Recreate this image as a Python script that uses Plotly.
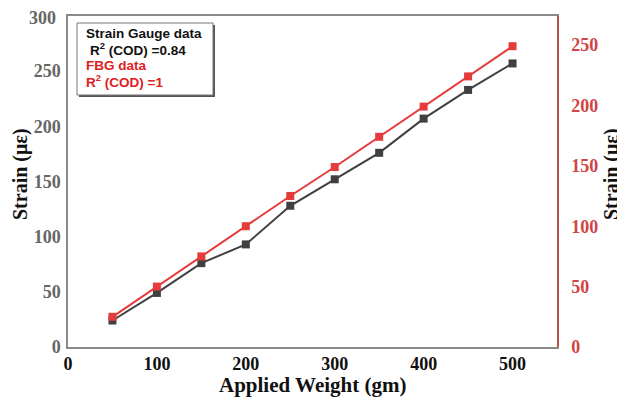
import plotly.graph_objects as go

weight = [50, 100, 150, 200, 250, 300, 350, 400, 450, 500]
strain_gauge = [24, 49, 76, 93, 128, 152, 176, 207, 233, 257]
fbg = [25, 50, 75, 100, 125, 149, 174, 199, 224, 249]

x_ticks = [0, 100, 200, 300, 400, 500]
left_ticks = [0, 50, 100, 150, 200, 250]
left_top_tick = 300
right_ticks = [0, 50, 100, 150, 200, 250]

fig = go.Figure()
fig.add_trace(go.Scatter(x=weight, y=strain_gauge, mode="lines+markers",
                         line=dict(color="#404040", width=2),
                         marker=dict(symbol="square", size=8, color="#404040"),
                         showlegend=False))
fig.add_trace(go.Scatter(x=weight, y=fbg, mode="lines+markers", yaxis="y2",
                         line=dict(color="#e63b3b", width=2),
                         marker=dict(symbol="square", size=8, color="#e63b3b"),
                         showlegend=False))

serif = "Liberation Serif"
sans = "Liberation Sans"

# page body has an 8px margin: figure is drawn offset by (8, 8)
OFF = 8
FW, FH = 625 - OFF, 397 - OFF
L, R, T, B = 68 - OFF, 557 - OFF, 16 - OFF, 347 - OFF
W, H = R - L, B - T

tickfont_left = dict(family=serif, size=18, color="#666666", weight="bold")

fig.update_layout(
    width=FW, height=FH,
    margin=dict(l=L, r=FW - R, t=T, b=FH - B, autoexpand=False),
    paper_bgcolor="white", plot_bgcolor="white",
    xaxis=dict(range=[0, 550], tickvals=x_ticks, showgrid=False, zeroline=False,
               showline=True, linecolor="#8a8a8a", linewidth=1.5, mirror=True,
               ticks="", ticklabelstandoff=0, automargin=False,
               tickfont=dict(family=serif, size=18, color="#111111", weight="bold")),
    yaxis=dict(range=[0, 300], tickvals=left_ticks, showgrid=False, zeroline=False,
               showline=True, linecolor="#8a8a8a", linewidth=1.5,
               ticks="", ticklabelstandoff=2, automargin=False,
               tickfont=tickfont_left),
    yaxis2=dict(range=[0, 274], tickvals=right_ticks, overlaying="y", side="right",
                showgrid=False, zeroline=False,
                showline=True, linecolor="#c0504d", linewidth=1.5,
                ticks="", ticklabelstandoff=9, automargin=False,
                tickfont=dict(family=serif, size=18, color="#d04545", weight="bold")),
)

def px(xp):
    return (xp - OFF - L) / W

def py(yp):
    return (B - (yp - OFF)) / H

# top tick label of the left axis (plotly hides it at the page edge)
fig.add_annotation(text=f"<b>{left_top_tick}</b>", xref="paper", yref="y",
                   x=px(58), y=left_top_tick, xanchor="right", yanchor="middle",
                   yshift=-2, showarrow=False,
                   font=dict(family=serif, size=18, color="#666666"))

# axis titles
fig.add_annotation(text="<b>Applied Weight (gm)</b>", xref="paper", yref="paper",
                   x=px(312), y=py(385), xanchor="center", yanchor="middle",
                   showarrow=False, font=dict(family=serif, size=21, color="#111111"))
fig.add_annotation(text="<b>Strain (με)</b>", xref="paper", yref="paper",
                   x=px(20), y=py(174), xanchor="center", yanchor="middle", textangle=-90,
                   showarrow=False, font=dict(family=serif, size=20, color="#111111"))
fig.add_annotation(text="<b>Strain (με)</b>", xref="paper", yref="paper",
                   x=px(611), y=py(174), xanchor="center", yanchor="middle", textangle=-90,
                   showarrow=False, font=dict(family=serif, size=20, color="#111111"))

# legend-like box (shadow + box)
fig.add_shape(type="rect", xref="paper", yref="paper",
              x0=px(79), x1=px(215), y0=py(97), y1=py(25),
              fillcolor="#555555", line=dict(width=0), layer="above")
fig.add_shape(type="rect", xref="paper", yref="paper",
              x0=px(77), x1=px(213), y0=py(95), y1=py(23),
              fillcolor="white", line=dict(color="#777777", width=1), layer="above")

lines = [
    ("<b>Strain Gauge data</b>", "#111111", 33, 84),
    ("<b>R<sup>2</sup> (COD) =0.84</b>", "#111111", 49, 88),
    ("<b>FBG data</b>", "#e02020", 66, 84),
    ("<b>R<sup>2</sup> (COD) =1</b>", "#e02020", 81, 84),
]
for txt, col, ypix, xpix in lines:
    fig.add_annotation(text=txt, xref="paper", yref="paper",
                       x=px(xpix), y=py(ypix),
                       xanchor="left", yanchor="middle", showarrow=False,
                       font=dict(family=sans, size=13.5, color=col))

fig.write_html("out.html")
